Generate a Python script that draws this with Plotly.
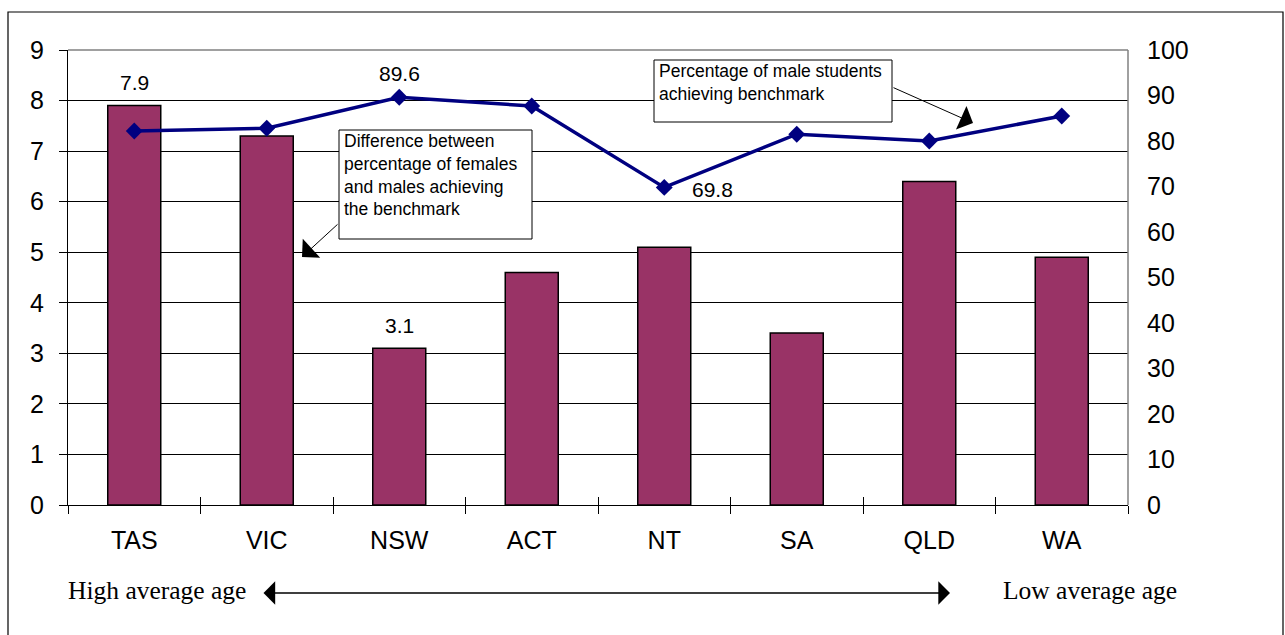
import plotly.graph_objects as go

# States ordered from high to low average student age
states = ["TAS", "VIC", "NSW", "ACT", "NT", "SA", "QLD", "WA"]
# Difference between % of females and % of males achieving the benchmark
gender_gap = [7.9, 7.3, 3.1, 4.6, 5.1, 3.4, 6.4, 4.9]
# Percentage of male students achieving the benchmark
male_pct = [82.2, 82.8, 89.6, 87.7, 69.8, 81.5, 80.0, 85.5]

# Values that carry a printed label
gap_labels = {"TAS": 7.9, "NSW": 3.1}
pct_labels = {"NSW": 89.6, "NT": 69.8}

left_ticks = list(range(0, 10))
right_ticks = list(range(0, 101, 10))

W, H = 1285, 635
ML, MR, MT, MB = 68, 157, 50, 130
PW, PH = W - ML - MR, H - MT - MB


def px(x):
    return (x - ML) / PW


def py(y):
    return (H - MB - y) / PH


ARIAL = "Liberation Sans, Arial, sans-serif"
TIMES = "Liberation Serif, Times New Roman, serif"

fig = go.Figure()
fig.add_trace(go.Bar(
    x=states, y=gender_gap, width=0.4,
    marker=dict(color="#993366", line=dict(color="black", width=1.5)),
    yaxis="y", showlegend=False, hoverinfo="x+y",
))
fig.add_trace(go.Scatter(
    x=states, y=male_pct, mode="lines+markers",
    line=dict(color="#000080", width=3.5),
    marker=dict(symbol="diamond", size=13, color="#000080"),
    yaxis="y2", showlegend=False,
))
# invisible carrier so the upper half of the category ticks is drawn
fig.add_trace(go.Scatter(
    x=states, y=gender_gap, xaxis="x2", yaxis="y", mode="markers",
    marker=dict(opacity=0), showlegend=False, hoverinfo="skip",
))

annotations = []
for s, v in gap_labels.items():
    annotations.append(dict(x=s, y=v, xref="x", yref="y", text=str(v),
                            showarrow=False, yshift=23,
                            font=dict(family=ARIAL, size=21, color="black")))
annotations.append(dict(x="NSW", y=pct_labels["NSW"], xref="x", yref="y2",
                        text=str(pct_labels["NSW"]), showarrow=False, yshift=24,
                        font=dict(family=ARIAL, size=21, color="black")))
annotations.append(dict(x="NT", y=pct_labels["NT"], xref="x", yref="y2",
                        text=str(pct_labels["NT"]), showarrow=False,
                        xshift=48, yshift=-2,
                        font=dict(family=ARIAL, size=21, color="black")))

# Callout texts
annotations.append(dict(
    x=px(342), y=py(129), xref="paper", yref="paper",
    xanchor="left", yanchor="top", align="left", showarrow=False,
    text="Difference between<br>percentage of females<br>and males achieving<br>the benchmark",
    font=dict(family=ARIAL, size=17.5, color="black")))
annotations.append(dict(
    x=px(657), y=py(59), xref="paper", yref="paper",
    xanchor="left", yanchor="top", align="left", showarrow=False,
    text="Percentage of male students<br>achieving benchmark",
    font=dict(family=ARIAL, size=17.5, color="black")))

# Callout arrows
annotations.append(dict(
    x=px(302), y=py(257), xref="paper", yref="paper", text="",
    showarrow=True, ax=37, ay=-34, arrowhead=1, arrowsize=4.3,
    arrowwidth=1, arrowcolor="black"))
annotations.append(dict(
    x=px(973), y=py(123), xref="paper", yref="paper", text="",
    showarrow=True, ax=-81, ay=-36, arrowhead=1, arrowsize=4.3,
    arrowwidth=1, arrowcolor="black"))

# Age direction indicator
annotations.append(dict(
    x=px(66), y=py(590), xref="paper", yref="paper",
    xanchor="left", yanchor="middle",
    showarrow=False, text="High average age",
    font=dict(family=TIMES, size=25.5, color="black")))
annotations.append(dict(
    x=px(1001), y=py(590), xref="paper", yref="paper",
    xanchor="left", yanchor="middle",
    showarrow=False, text="Low average age",
    font=dict(family=TIMES, size=25.5, color="black")))
annotations.append(dict(
    x=px(950), y=py(593), xref="paper", yref="paper", text="",
    showarrow=True, ax=262 - 950, ay=0, arrowhead=1, startarrowhead=1,
    arrowside="end+start", arrowsize=2.6, startarrowsize=2.6,
    arrowwidth=1.5, arrowcolor="black"))

shapes = [
    # outer frame
    dict(type="rect", xref="paper", yref="paper",
         x0=px(8), x1=px(1283), y0=py(645), y1=py(12),
         line=dict(color="black", width=1.2), layer="below"),
    # plot area top and right edges
    dict(type="line", xref="paper", yref="paper", x0=0, x1=1, y0=1, y1=1,
         line=dict(color="#808080", width=1.5), layer="above"),
    dict(type="line", xref="paper", yref="paper", x0=1, x1=1, y0=0, y1=1,
         line=dict(color="#808080", width=1.5), layer="above"),
    # callout boxes
    dict(type="rect", xref="paper", yref="paper",
         x0=px(339), x1=px(532), y0=py(239), y1=py(130),
         fillcolor="white", line=dict(color="black", width=1), layer="above"),
    dict(type="rect", xref="paper", yref="paper",
         x0=px(654), x1=px(892), y0=py(122), y1=py(60),
         fillcolor="white", line=dict(color="black", width=1), layer="above"),
]

fig.update_layout(
    width=W, height=H,
    margin=dict(l=ML, r=MR, t=MT, b=MB, pad=0),
    paper_bgcolor="white", plot_bgcolor="white",
    bargap=0.6,
    xaxis=dict(
        type="category", categoryorder="array", categoryarray=states,
        range=[-0.5, len(states) - 0.5],
        showline=True, linecolor="black", linewidth=1.2,
        ticks="outside", ticklen=8, tickcolor="black", tickwidth=1,
        tickson="boundaries", showgrid=False,
        tickfont=dict(family=ARIAL, size=25, color="black"),
        ticklabelstandoff=13,
    ),
    xaxis2=dict(
        type="category", categoryorder="array", categoryarray=states,
        range=[-0.5, len(states) - 0.5], overlaying="x", side="bottom",
        anchor="y", showline=False, showgrid=False,
        ticks="inside", ticklen=8, tickcolor="black", tickwidth=1,
        tickson="boundaries", showticklabels=False,
    ),
    yaxis=dict(
        range=[0, 9], tickvals=left_ticks, showgrid=True,
        gridcolor="black", gridwidth=1, zeroline=False,
        showline=True, linecolor="black", linewidth=1.2,
        ticks="outside", ticklen=8, tickcolor="black",
        tickfont=dict(family=ARIAL, size=25, color="black"),
        ticklabelstandoff=10,
    ),
    yaxis2=dict(
        range=[0, 100], tickvals=right_ticks, overlaying="y", side="right",
        showgrid=False, zeroline=False, showline=False, ticks="",
        tickfont=dict(family=ARIAL, size=25, color="black"),
        ticklabelstandoff=18,
    ),
    annotations=annotations,
    shapes=shapes,
)

fig.write_html("out.html")
